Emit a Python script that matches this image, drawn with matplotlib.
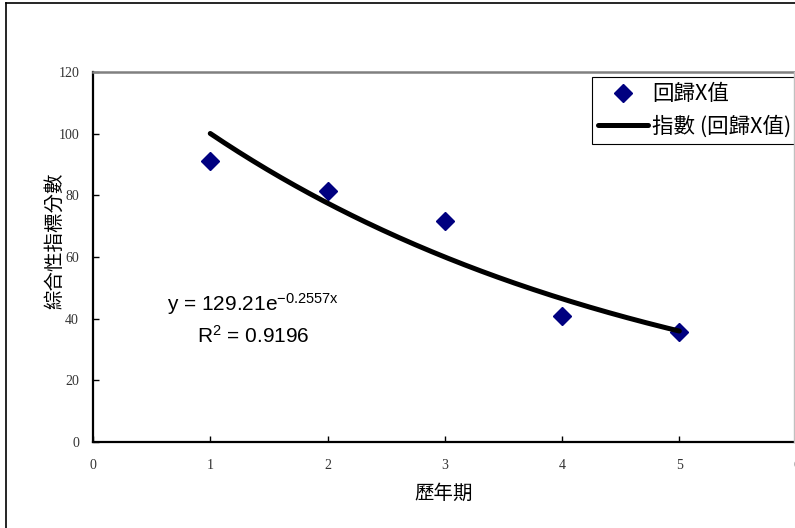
import numpy as np
import matplotlib.pyplot as plt
from matplotlib.lines import Line2D

plt.rcParams['font.family'] = ['Noto Sans CJK TC', 'DejaVu Sans']
plt.rcParams['mathtext.fontset'] = 'custom'
plt.rcParams['mathtext.rm'] = 'Liberation Sans'
plt.rcParams['mathtext.it'] = 'Liberation Sans'

# data
periods = [1, 2, 3, 4, 5]
scores = [91.2, 81.3, 71.7, 41.0, 35.6]

# exponential trendline as printed on the chart
fit_a = 129.21
fit_b = -0.2557
r_squared = 0.9196

x_ticks = [0, 1, 2, 3, 4, 5, 6]
y_ticks = [0, 20, 40, 60, 80, 100, 120]

W, H = 795, 528
fig = plt.figure(figsize=(W / 100, H / 100), dpi=100)
ax = fig.add_axes([93 / W, 86 / H, (796.6 - 93) / W, 370 / H])

# trendline over the fitted range
xs = np.linspace(periods[0], periods[-1], 200)
pts, = ax.plot(periods, scores, 'D', color='#000080', ms=9, ls='none', zorder=3)
line, = ax.plot(xs, fit_a * np.exp(fit_b * xs), color='black', lw=3.6, zorder=4,
                solid_capstyle='round')

ax.set_xlim(0, 6)
ax.set_ylim(0, 120)
ax.set_xticks(x_ticks)
ax.set_xticklabels([str(v) for v in x_ticks], fontfamily='Liberation Serif', color='#333333')
ax.set_yticks(y_ticks)
ax.set_yticklabels([str(v) for v in y_ticks], fontfamily='Liberation Serif', color='#333333')
ax.tick_params(axis='both', direction='in', length=4, width=1, labelsize=10)
ax.tick_params(axis='x', pad=12)
ax.tick_params(axis='y', pad=10)

ax.spines['left'].set_color('black')
ax.spines['left'].set_linewidth(1.6)
ax.spines['bottom'].set_color('black')
ax.spines['bottom'].set_linewidth(1.6)
ax.spines['top'].set_color('#808080')
ax.spines['top'].set_linewidth(1.8)
ax.spines['right'].set_visible(False)
# plot area right border (Excel draws it just inside the last tick)
fig.add_artist(Line2D([794 / W, 794 / W], [86 / H, 456 / H], color='#c0c0c0', lw=1))

# outer chart frame
fig.add_artist(Line2D([6 / W, 6 / W], [0, 1 - 3 / H], color='black', lw=1.2))
fig.add_artist(Line2D([6 / W, 1], [1 - 3 / H, 1 - 3 / H], color='black', lw=1.2))

fig.text(444 / W, 1 - 493 / H, '歷年期', fontsize=14, ha='center', va='center')
fig.text(55 / W, 1 - 241 / H, '綜合性指標分數', fontsize=14, ha='center', va='center',
         rotation=90)

eq = 'y = %.2fe$^{\\mathrm{%.4fx}}$\nR$^{\\mathrm{2}}$ = %.4f' % (fit_a, fit_b, r_squared)
fig.text(253 / W, 1 - 319 / H, eq, fontsize=15, fontfamily='Liberation Sans',
         ha='center', va='center', multialignment='center', linespacing=1.45)

leg = ax.legend([pts, line], ['回歸X值', '指數 (回歸X值)'], loc='upper left',
                bbox_to_anchor=(592 / W, 1 - 77 / H), bbox_transform=fig.transFigure,
                borderaxespad=0, fontsize=15.5, frameon=True, fancybox=False,
                edgecolor='black', framealpha=1, handlelength=2.3, handletextpad=0.2,
                borderpad=0.3, labelspacing=0.45)
leg.get_frame().set_linewidth(0.8)

fig.savefig('out.png', dpi=100)
